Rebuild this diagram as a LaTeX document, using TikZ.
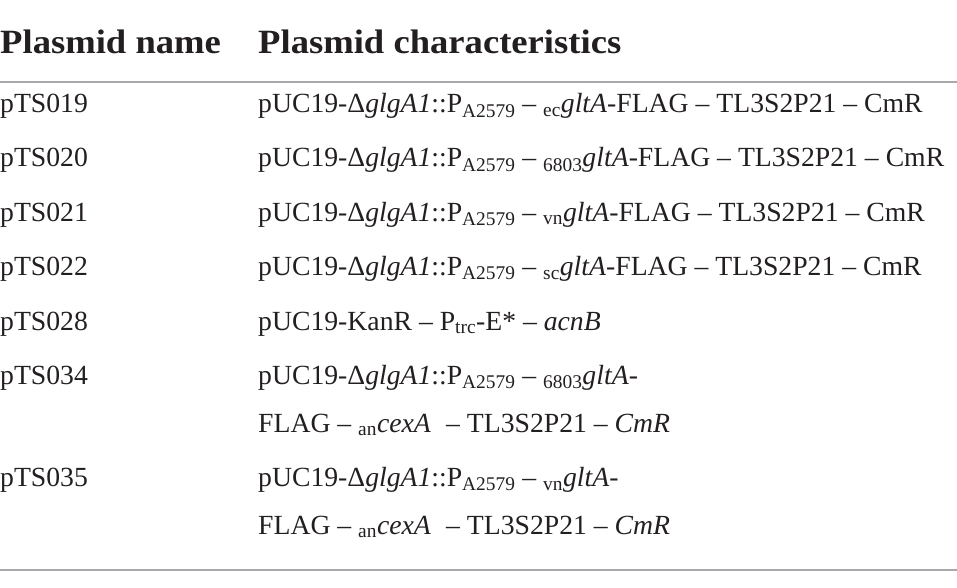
\documentclass[tikz,border=0pt]{standalone}
\usepackage{fontspec}
\setmainfont{Liberation Serif}
\newfontfamily\headfont{Liberation Serif}[FakeStretch=1.077]
\definecolor{txt}{HTML}{231F20}
\definecolor{rule}{HTML}{A7A9AC}
\newcommand\lo[1]{\textsubscript{#1}}
\begin{document}
\begin{tikzpicture}[x=1pt,y=1pt,
  cell/.style={anchor=base west,inner sep=0pt,text=txt,font=\fontsize{27.7}{33}\selectfont},
  head/.style={anchor=base west,inner sep=0pt,text=txt,font=\headfont\fontsize{34}{40}\selectfont\bfseries},
  hrule/.style={draw=rule,line width=2pt}]
\useasboundingbox (0,0) rectangle (957,-588);
\node[head] (h1) at (0,-53.5) {Plasmid name};
\node[head] (h2) at (258,-53.5) {Plasmid characteristics};
\draw[hrule] (0,-82) -- (957,-82);
\node[cell] (n1) at (0,-113) {pTS019};
\node[cell] (c1) at (258,-113) {pUC19-Δ\textit{glgA1}::P\lo{A2579} – \lo{ec}\textit{gltA}-FLAG – TL3S2P21 – CmR};
\node[cell] (n2) at (0,-167) {pTS020};
\node[cell] (c2) at (258,-167) {pUC19-Δ\textit{glgA1}::P\lo{A2579} – \lo{6803}\textit{gltA}-FLAG – TL3S2P21 – CmR};
\node[cell] (n3) at (0,-221) {pTS021};
\node[cell] (c3) at (258,-221) {pUC19-Δ\textit{glgA1}::P\lo{A2579} – \lo{vn}\textit{gltA}-FLAG – TL3S2P21 – CmR};
\node[cell] (n4) at (0,-275.5) {pTS022};
\node[cell] (c4) at (258,-275.5) {pUC19-Δ\textit{glgA1}::P\lo{A2579} – \lo{sc}\textit{gltA}-FLAG – TL3S2P21 – CmR};
\node[cell] (n5) at (0,-330) {pTS028};
\node[cell] (c5) at (258,-330) {pUC19-KanR – P\lo{trc}-E* – \textit{acnB}};
\node[cell] (n6) at (0,-384.5) {pTS034};
\node[cell] (c6a) at (258,-384.5) {pUC19-Δ\textit{glgA1}::P\lo{A2579} – \lo{6803}\textit{gltA}-};
\node[cell] (c6b) at (258,-432) {FLAG – \lo{an}\textit{cexA}\hspace{0.3em} – TL3S2P21 – \textit{CmR}};
\node[cell] (n7) at (0,-486.5) {pTS035};
\node[cell] (c7a) at (258,-486.5) {pUC19-Δ\textit{glgA1}::P\lo{A2579} – \lo{vn}\textit{gltA}-};
\node[cell] (c7b) at (258,-534) {FLAG – \lo{an}\textit{cexA}\hspace{0.3em} – TL3S2P21 – \textit{CmR}};
\draw[hrule] (0,-570) -- (957,-570);
\end{tikzpicture}
\end{document}
